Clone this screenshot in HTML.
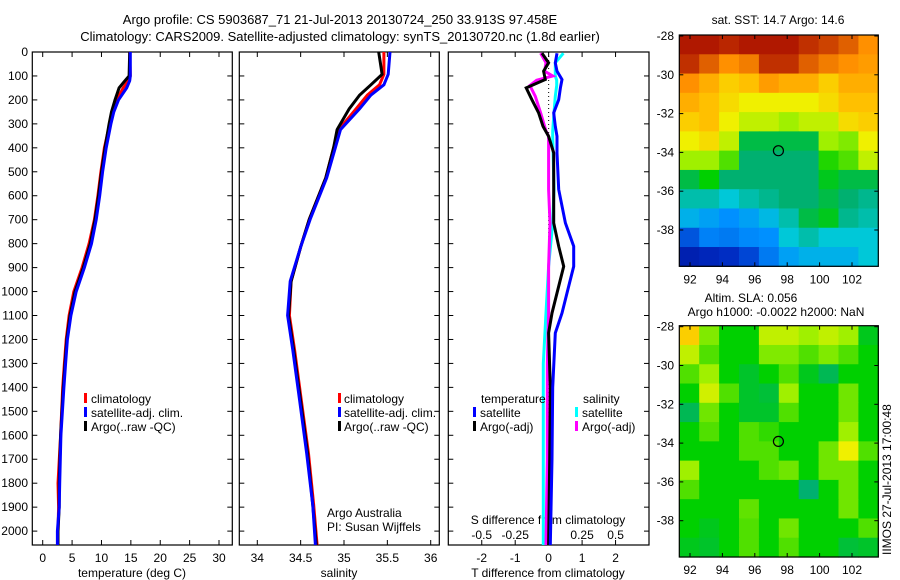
<!DOCTYPE html>
<html><head><meta charset="utf-8">
<style>
html,body{margin:0;padding:0;background:#fff;}
svg{display:block;font-family:"Liberation Sans",sans-serif;}
text{fill:#000;}
</style></head>
<body>
<svg id="fig" width="900" height="580" viewBox="0 0 900 580" xmlns="http://www.w3.org/2000/svg">
<rect x="0" y="0" width="900" height="580" fill="#fff"/>
<text x="340" y="24" font-size="13" text-anchor="middle">Argo profile: CS 5903687_71 21-Jul-2013 20130724_250 33.913S 97.458E</text>
<text x="340" y="41" font-size="13" text-anchor="middle">Climatology: CARS2009. Satellite-adjusted climatology: synTS_20130720.nc (1.8d earlier)</text>
<text x="778" y="24" font-size="12" text-anchor="middle">sat. SST: 14.7 Argo: 14.6</text>
<text x="751" y="302" font-size="12" text-anchor="middle">Altim. SLA: 0.056</text>
<text x="776" y="316" font-size="12" text-anchor="middle">Argo h1000: -0.0022 h2000: NaN</text>
<text transform="translate(891,555) rotate(-90)" font-size="12">IIMOS 27-Jul-2013 17:00:48</text>
<g id="g"></g>
</svg>
<script>
// ---------- DATA ----------
const depthT = [0,100,120,150,200,250,300,400,500,600,700,800,900,1000,1100,1200,1300,1400,1600,1800,1900,2000,2058];
const tempClim = [14.8,14.9,14.6,13.7,12.6,11.9,11.4,10.5,9.9,9.4,8.8,7.9,6.7,5.3,4.5,4.0,3.7,3.4,3.05,2.6,2.7,2.6,2.6];
const tempSat  = [14.9,14.9,14.8,14.3,12.9,12.1,11.6,10.8,10.2,9.7,9.1,8.3,7.1,5.7,4.8,4.2,3.9,3.6,3.1,2.9,2.8,2.5,2.5];
const tempArgo = [14.8,14.7,14.0,13.0,12.3,11.7,11.3,10.6,10.0,9.5,8.9,8.1,6.9,5.5,4.65,4.1,3.8,3.5,3.05,2.8,2.8,2.6,2.6];

const depthS = [0,93,137,180,237,324,400,525,698,813,957,1100,1244,1460,1676,1892,2058];
const salClim = [35.46,35.46,35.41,35.27,35.14,34.94,34.88,34.79,34.6,34.5,34.39,34.37,34.43,34.51,34.59,34.65,34.69];
const salSat  = [35.53,35.51,35.46,35.31,35.18,34.96,34.90,34.80,34.61,34.5,34.38,34.35,34.41,34.49,34.57,34.64,34.67];
const salArgo = [35.40,35.44,35.31,35.18,35.06,34.92,34.88,34.79,34.6,34.5,34.39,34.36,34.42,34.50,34.58,34.64,34.68];

const depthDT = [5,45,80,115,150,199,254,310,352,421,574,714,811,895,978,1090,1173,1400,1700,2058];
const dTSat  = [0.25,0.2,0.25,0.4,0.35,0.3,0.15,0.2,0.25,0.25,0.3,0.5,0.75,0.75,0.6,0.4,0.2,0.12,0.1,0.05];
const dTArgo = [-0.2,0.0,-0.15,-0.1,-0.67,-0.5,-0.3,-0.17,0.0,0.15,0.15,0.15,0.3,0.45,0.3,0.1,0.0,0.05,0.03,0.0];
const depthDS = [5,45,80,100,118,140,185,254,330,352,574,714,895,1090,1300,1700,2058];
const dSSat  = [0.11,0.05,0.05,0.05,0.06,0.06,0.05,0.04,0.03,0.03,0.04,0.03,0.0,-0.02,-0.04,-0.04,-0.04];
const dSArgo = [-0.06,-0.02,-0.03,0.03,-0.09,-0.14,-0.1,-0.06,-0.02,0.0,0.0,0.01,0.0,0.0,-0.01,-0.01,-0.02];

const tTicks = [0,5,10,15,20,25,30];
const sTicks = [34,34.5,35,35.5,36];
const dTTicks = [-2,-1,0,1,2];
const dSTicks = [-0.5,-0.25,0,0.25,0.5];
const dSTickLabels = ["-0.5","-0.25","0","0.25","0.5"];
const depthTicks = [0,100,200,300,400,500,600,700,800,900,1000,1100,1200,1300,1400,1500,1600,1700,1800,1900,2000];
const lonTicks = [92,94,96,98,100,102];
const latTicks = [-28,-30,-32,-34,-36,-38];
const argoLon = 97.458, argoLat = -33.913;

const sstGrid = [
[.95,.95,.92,.95,.95,.95,.9,.88,.85,.8],
[.9,.85,.8,.82,.9,.9,.85,.82,.8,.78],
[.8,.75,.7,.72,.78,.75,.75,.7,.75,.75],
[.75,.72,.68,.65,.65,.65,.65,.68,.72,.72],
[.7,.72,.65,.62,.62,.6,.62,.62,.68,.7],
[.65,.68,.62,.45,.45,.45,.45,.6,.58,.65],
[.6,.6,.55,.42,.42,.42,.42,.52,.55,.62],
[.45,.5,.42,.42,.42,.42,.42,.48,.45,.45],
[.38,.38,.35,.38,.4,.42,.42,.45,.42,.4],
[.32,.3,.28,.3,.33,.38,.45,.48,.4,.38],
[.2,.26,.25,.27,.28,.35,.38,.35,.35,.35],
[.1,.12,.14,.18,.25,.3,.32,.32,.32,.35]];
const slaGrid = [
[.7,.58,.5,.5,.62,.62,.6,.62,.6,.48],
[.62,.55,.5,.5,.58,.58,.55,.58,.55,.5],
[.55,.6,.5,.47,.5,.55,.48,.44,.5,.5],
[.5,.63,.55,.47,.46,.6,.5,.5,.57,.5],
[.44,.57,.5,.47,.47,.55,.5,.5,.57,.5],
[.5,.55,.5,.55,.53,.5,.5,.5,.6,.5],
[.5,.5,.5,.55,.55,.5,.5,.57,.65,.55],
[.6,.5,.5,.5,.55,.57,.5,.57,.57,.5],
[.55,.5,.5,.5,.5,.5,.42,.5,.57,.5],
[.5,.5,.5,.56,.5,.5,.5,.5,.57,.5],
[.5,.48,.5,.55,.5,.57,.5,.5,.5,.55],
[.48,.47,.5,.55,.5,.55,.5,.5,.46,.47]];

// ---------- GEOMETRY ----------
const NS="http://www.w3.org/2000/svg";
const G=document.getElementById('g');
function el(tag,attrs,parent){const e=document.createElementNS(NS,tag);for(const k in attrs)e.setAttribute(k,attrs[k]);(parent||G).appendChild(e);return e;}
const TOP=52, BOT=545;
const yD = d => TOP + d*(BOT-TOP)/2058;
const P1={l:32.3,r:232.3}, P2={l:239.3,r:439.3}, P3={l:448.3,r:649};
const xT = t => 42.7 + 5.877*t;
const xS = s => 257.3 + 86.7*(s-34);
const xDT = v => 548.65 + 33.45*v;
const xDS = v => 548.65 + 133.8*v;

function frame(p,name){
  el('rect',{x:p.l,y:TOP,width:p.r-p.l,height:BOT-TOP,fill:'none',stroke:'#000','stroke-width':1.2,});
}
function xticks(p,ticks,fx,labels,ly,name){
  ticks.forEach((t,i)=>{
    const x=fx(t);
    el('line',{x1:x,y1:BOT,x2:x,y2:BOT-5,stroke:'#000'});
    el('line',{x1:x,y1:TOP,x2:x,y2:TOP+5,stroke:'#000'});
    const tx=el('text',{x:x,y:ly,'font-size':12,'text-anchor':'middle'});
    
    
    tx.textContent=labels?labels[i]:String(t);
  });
}
function yticks(p){
  depthTicks.forEach(d=>{
    const y=yD(d);
    el('line',{x1:p.l,y1:y,x2:p.l+5,y2:y,stroke:'#000'});
    el('line',{x1:p.r,y1:y,x2:p.r-5,y2:y,stroke:'#000'});
  });
}
function line(xs,ds,fx,color,w,name){
  const pts=xs.map((v,i)=>fx(v).toFixed(1)+','+yD(ds[i]).toFixed(1)).join(' ');
  const pl=el('polyline',{points:pts,fill:'none',stroke:color,'stroke-width':w,'stroke-linejoin':'miter'});
  
  
}
function txt(x,y,s,name,anchor,size){
  const t=el('text',{x:x,y:y,'font-size':size||12,'text-anchor':anchor||'start'});
  
  
  t.textContent=s;return t;
}
function marker(x,y,color,name){
  const r=el('rect',{x:x,y:y-10,width:3,height:10,fill:color});
  
  
}

depthTicks.forEach(d=>{
  const t=el('text',{x:28,y:yD(d)+4,'font-size':12,'text-anchor':'end'});
  
  
  t.textContent=String(d);
});

// Panel 1
frame(P1,'temperature-panel'); yticks(P1);
xticks(P1,tTicks,xT,null,562,'temperature-tick-label');
txt(132,577,'temperature (deg C)','temperature-axis-title','middle');
line(tempClim,depthT,xT,'#ff0000',3,'temperature-climatology-line');
line(tempArgo,depthT,xT,'#000000',3,'temperature-argo-line');
line(tempSat,depthT,xT,'#0000ff',3,'temperature-satellite-line');
marker(84,403,'#ff0000','legend-climatology-marker'); txt(91,403,'climatology','legend-climatology-label');
marker(84,417,'#0000ff','legend-satellite-marker'); txt(91,417,'satellite-adj. clim.','legend-satellite-label');
marker(84,431,'#000','legend-argo-marker'); txt(91,431,'Argo(..raw -QC)','legend-argo-label');

// Panel 2
frame(P2,'salinity-panel'); yticks(P2);
xticks(P2,sTicks,xS,null,562,'salinity-tick-label');
txt(339,577,'salinity','salinity-axis-title','middle');
line(salClim,depthS,xS,'#ff0000',3,'salinity-climatology-line');
line(salArgo,depthS,xS,'#000000',3,'salinity-argo-line');
line(salSat,depthS,xS,'#0000ff',3,'salinity-satellite-line');
marker(338,403,'#ff0000','legend-climatology-marker'); txt(344,403,'climatology','legend-climatology-label');
marker(338,417,'#0000ff','legend-satellite-marker'); txt(344,417,'satellite-adj. clim.','legend-satellite-label');
marker(338,431,'#000','legend-argo-marker'); txt(344,431,'Argo(..raw -QC)','legend-argo-label');
txt(327,517,'Argo Australia','credit-line-1');
txt(327,531,'PI: Susan Wijffels','credit-line-2');

// Panel 3
frame(P3,'difference-panel'); yticks(P3);
xticks(P3,dTTicks,xDT,null,562,'t-diff-tick-label');
dSTicks.forEach((v,i)=>{
  const t=el('text',{x:xDS(v),y:539,'font-size':12,'text-anchor':'middle'});
  
  
  t.textContent=dSTickLabels[i];
});
txt(548,524,'S difference from climatology','s-diff-axis-title','middle');
txt(548,577,'T difference from climatology','t-diff-axis-title','middle');
el('line',{x1:xDT(0),y1:TOP,x2:xDT(0),y2:BOT,stroke:'#000','stroke-width':1,'stroke-dasharray':'1,3'});
line(dSSat,depthDS,xDS,'#00ffff',3,'s-diff-satellite-line');
line(dSArgo,depthDS,xDS,'#ff00ff',3,'s-diff-argo-line');
line(dTArgo,depthDT,xDT,'#000000',3,'t-diff-argo-line');
line(dTSat,depthDT,xDT,'#0000ff',3,'t-diff-satellite-line');
txt(481,403,'temperature','legend-temperature-heading');
txt(583,403,'salinity','legend-salinity-heading');
marker(473,417,'#0000ff','legend-t-satellite-marker'); txt(480,417,'satellite','legend-t-satellite-label');
marker(473,431,'#000','legend-t-argo-marker'); txt(480,431,'Argo(-adj)','legend-t-argo-label');
marker(575,417,'#00ffff','legend-s-satellite-marker'); txt(582,417,'satellite','legend-s-satellite-label');
marker(575,431,'#ff00ff','legend-s-argo-marker'); txt(582,431,'Argo(-adj)','legend-s-argo-label');

// ---------- MAPS ----------
const stops=[[0,[0,0,128]],[.15,[0,48,200]],[.28,[0,144,255]],[.35,[0,200,216]],[.42,[0,176,112]],[.5,[0,208,0]],[.6,[160,240,0]],[.65,[240,240,0]],[.72,[255,192,0]],[.8,[255,144,0]],[.9,[192,48,0]],[1,[160,0,0]]];
function cmap(v){
  for(let i=1;i<stops.length;i++){
    if(v<=stops[i][0]){const a=stops[i-1],b=stops[i],f=(v-a[0])/(b[0]-a[0]);
      const c=a[1].map((q,k)=>Math.round(q+(b[1][k]-q)*f));return 'rgb('+c.join(',')+')';}
  }
  return 'rgb(160,0,0)';
}
const ML=679.3, MR=878.3;
const lonX = lon => 690 + 16.2*(lon-92);
function drawMap(top,grid,name){
  const bot=top+231.3;
  const latY = lat => top+1 + 19.4*(-28-lat);
  const rows=grid.length, cols=grid[0].length;
  const cw=(MR-ML)/cols, ch=(bot-top)/rows;
  grid.forEach((row,r)=>row.forEach((v,c)=>{
    const cell=el('rect',{x:ML+c*cw,y:top+r*ch,width:cw+0.6,height:ch+0.6,fill:cmap(v)});
    
    
  }));
  el('rect',{x:ML,y:top,width:MR-ML,height:bot-top,fill:'none',stroke:'#000','stroke-width':1.2,});
  lonTicks.forEach(l=>{const x=lonX(l);
    el('line',{x1:x,y1:bot,x2:x,y2:bot-4,stroke:'#000'});el('line',{x1:x,y1:top,x2:x,y2:top+4,stroke:'#000'});
    const t=el('text',{x:x,y:bot+17,'font-size':12,'text-anchor':'middle'});
    
    
    t.textContent=String(l);});
  latTicks.forEach(l=>{const y=latY(l);
    el('line',{x1:ML,y1:y,x2:ML+4,y2:y,stroke:'#000'});el('line',{x1:MR,y1:y,x2:MR-4,y2:y,stroke:'#000'});
    const t=el('text',{x:674,y:y+4,'font-size':12,'text-anchor':'end'});
    
    
    t.textContent=String(l);});
  const c=el('circle',{cx:lonX(argoLon),cy:latY(argoLat),r:5,fill:'none',stroke:'#000','stroke-width':1.2});
  
  
}
drawMap(35,sstGrid,'sst-map');
drawMap(325.7,slaGrid,'sla-map');
</script>
</body></html>
